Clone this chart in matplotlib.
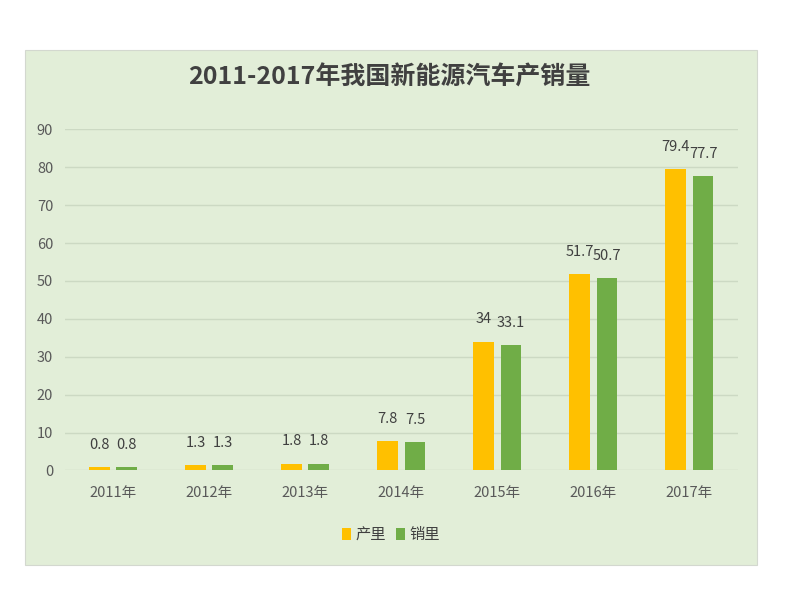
import matplotlib
matplotlib.use("Agg")
import matplotlib.pyplot as plt
from matplotlib.patches import Rectangle
import numpy as np

plt.rcParams['font.family'] = ['Noto Sans CJK SC', 'DejaVu Sans']

categories = ['2011年', '2012年', '2013年', '2014年', '2015年', '2016年', '2017年']
production = [0.8, 1.3, 1.8, 7.8, 34, 51.7, 79.4]
sales = [0.8, 1.3, 1.8, 7.5, 33.1, 50.7, 77.7]
prod_labels = ['0.8', '1.3', '1.8', '7.8', '34', '51.7', '79.4']
sales_labels = ['0.8', '1.3', '1.8', '7.5', '33.1', '50.7', '77.7']
series_names = ['产里', '销里']
yticks = [0, 10, 20, 30, 40, 50, 60, 70, 80, 90]
title = '2011-2017年我国新能源汽车产销量'

W, H = 794, 596
fig = plt.figure(figsize=(W / 100, H / 100), dpi=100)
fig.patch.set_facecolor('white')

bg = '#E2EED8'
# chart panel
fig.patches.append(Rectangle((25 / W, 1 - 565 / H), (757 - 25) / W, (565 - 50) / H,
                             transform=fig.transFigure, facecolor=bg,
                             edgecolor='#D3D8CF', linewidth=0.8, zorder=-5))

ax = fig.add_axes([65 / W, 1 - 470.4 / H, (737.5 - 65) / W, (470.4 - 129.3) / H])
ax.set_facecolor('none')
ax.set_zorder(2)

x = np.arange(len(categories))
w = 0.215
off = 0.142
yellow = '#FFC000'
green = '#70AD47'
b1 = ax.bar(x - off, production, w, color=yellow, zorder=3, label=series_names[0])
b2 = ax.bar(x + off, sales, w, color=green, zorder=3, label=series_names[1])

lab_color = '#404040'
for xi, v, t in zip(x, production, prod_labels):
    ax.annotate(t, (xi - off, v), xytext=(0, 16), textcoords='offset points',
                ha='center', va='center', fontsize=10.5, color=lab_color)
for xi, v, t in zip(x, sales, sales_labels):
    ax.annotate(t, (xi + off, v), xytext=(0, 16), textcoords='offset points',
                ha='center', va='center', fontsize=10.5, color=lab_color)

ax.set_xlim(-0.5, len(categories) - 0.5)
ax.set_ylim(0, 90)
ax.set_yticks(yticks)
ax.set_xticks(x)
ax.set_xticklabels(categories)
ax.tick_params(axis='both', length=0, labelsize=10.5, labelcolor='#595959')
ax.tick_params(axis='y', pad=8.5)
ax.tick_params(axis='x', pad=11)
ax.grid(axis='y', color='#CCD9C3', linewidth=1.0, zorder=0)
ax.set_axisbelow(True)
for s in ax.spines.values():
    s.set_visible(False)

fig.text(389 / W, 1 - 77 / H, title, ha='center', va='center', fontsize=18,
         fontweight='bold', color='#404040')

leg = fig.legend(handles=[b1, b2], labels=series_names, loc='center',
                 bbox_to_anchor=(391 / W, 1 - 535 / H), ncol=2, frameon=False,
                 fontsize=11, handlelength=0.6, handleheight=0.8,
                 handletextpad=0.3, columnspacing=0.6)
for t in leg.get_texts():
    t.set_color('#404040')

fig.savefig('out.png', dpi=100, facecolor='white')
